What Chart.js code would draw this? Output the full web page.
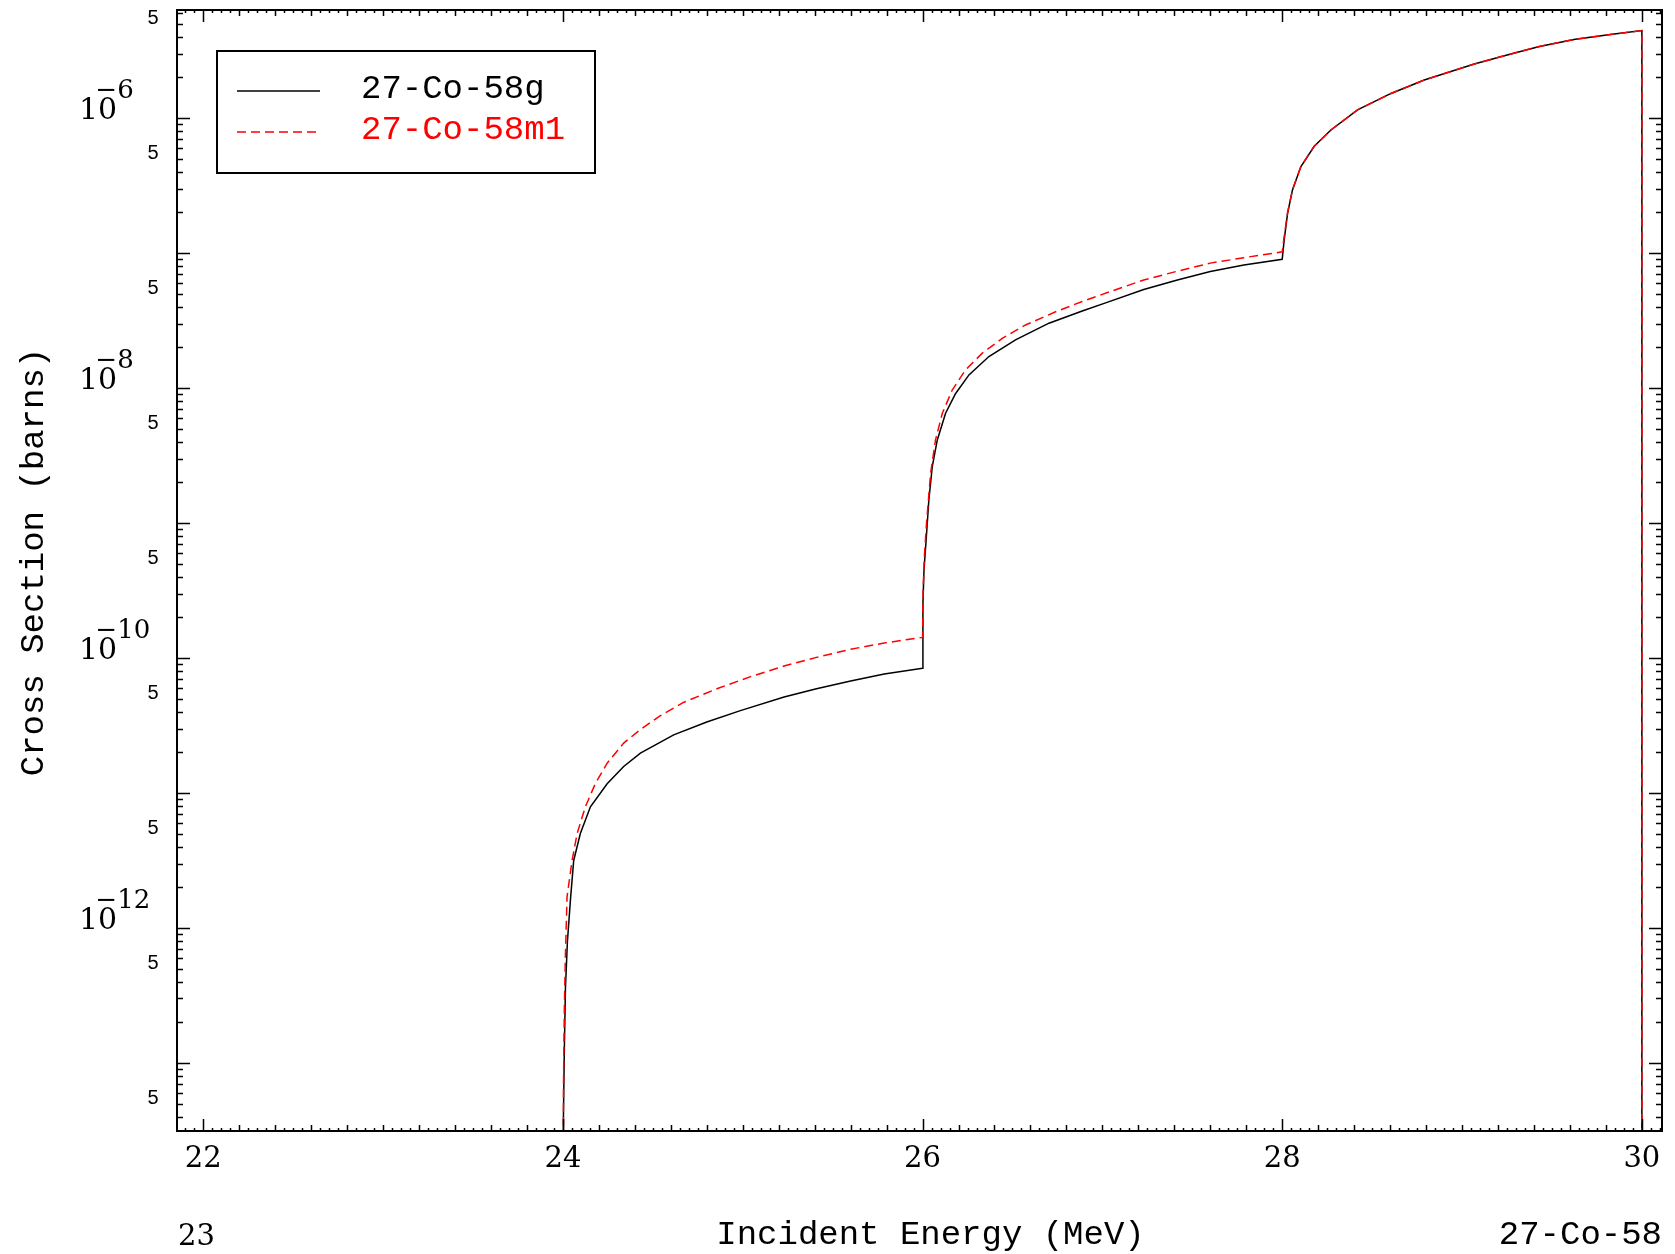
<!DOCTYPE html>
<html>
<head>
<meta charset="utf-8">
<script src="https://cdn.jsdelivr.net/npm/chart.js@4.4.1/dist/chart.umd.min.js"></script>
<style>
  html, body { margin: 0; padding: 0; background: #fff; }
  #wrap { width: 1675px; height: 1254px; position: relative; }
</style>
</head>
<body>
<div id="wrap"><canvas id="xsChart"></canvas></div>
<script>
// cross sections (barns); 1e-20 = below the axis (zero)
const groundLabel = '27-Co-58g';
const groundEnergy = [24.000, 24.003, 24.008, 24.014, 24.025, 24.042, 24.060, 24.097, 24.153, 24.246,
  24.338, 24.431, 24.616, 24.800, 24.987, 25.230, 25.410, 25.600, 25.787, 26.000,
  26.002, 26.008, 26.020, 26.035, 26.054, 26.082, 26.128, 26.184, 26.258, 26.369, 26.517, 26.703,
  26.888, 27.018, 27.230, 27.417, 27.600, 27.787, 28.000,
  28.011, 28.030, 28.057, 28.104, 28.178, 28.271, 28.419, 28.605, 28.790, 29.068, 29.230, 29.430,
  29.630, 29.835, 30.000, 30.0001];
const groundXS = [1e-20, 4.0e-14, 1.26e-13, 3.55e-13, 7.9e-13, 1.62e-12, 3.16e-12, 5.0e-12, 7.9e-12, 1.17e-11,
  1.57e-11, 1.97e-11, 2.69e-11, 3.35e-11, 4.07e-11, 5.13e-11, 5.92e-11, 6.76e-11, 7.59e-11, 8.38e-11,
  2.5e-10, 4.5e-10, 7.5e-10, 1.48e-9, 2.61e-9, 4.12e-9, 6.5e-9, 9.1e-9, 1.25e-8, 1.71e-8, 2.27e-8, 3.02e-8,
  3.72e-8, 4.27e-8, 5.37e-8, 6.31e-8, 7.29e-8, 8.15e-8, 8.97e-8,
  1.25e-7, 1.97e-7, 2.93e-7, 4.37e-7, 6.17e-7, 8.15e-7, 1.15e-6, 1.52e-6, 1.91e-6, 2.51e-6, 2.88e-6, 3.39e-6,
  3.83e-6, 4.17e-6, 4.44e-6, 1e-20];

const metaLabel = '27-Co-58m1';
const metaEnergy = [24.000, 24.003, 24.008, 24.014, 24.023, 24.051, 24.079, 24.125, 24.180, 24.246,
  24.338, 24.431, 24.540, 24.670, 24.860, 25.040, 25.230, 25.410, 25.600, 25.787, 26.000,
  26.003, 26.010, 26.022, 26.045, 26.072, 26.110, 26.165, 26.239, 26.332, 26.443, 26.573, 26.740,
  26.888, 27.046, 27.230, 27.417, 27.600, 27.787, 28.000,
  28.011, 28.030, 28.057, 28.104, 28.178, 28.271, 28.419, 28.605, 28.790, 29.068, 29.230, 29.430,
  29.630, 29.835, 30.000, 30.0001];
const metaXS = [1e-20, 6.3e-14, 2.5e-13, 6.3e-13, 1.70e-12, 3.16e-12, 5.0e-12, 7.9e-12, 1.17e-11, 1.66e-11,
  2.34e-11, 2.95e-11, 3.72e-11, 4.68e-11, 5.94e-11, 7.24e-11, 8.71e-11, 1.01e-10, 1.16e-10, 1.29e-10, 1.42e-10,
  3.16e-10, 5.6e-10, 1.0e-9, 2.34e-9, 4.12e-9, 6.5e-9, 9.66e-9, 1.36e-8, 1.81e-8, 2.33e-8, 2.93e-8, 3.67e-8,
  4.37e-8, 5.19e-8, 6.31e-8, 7.33e-8, 8.41e-8, 9.23e-8, 1.02e-7,
  1.32e-7, 2.0e-7, 2.93e-7, 4.37e-7, 6.17e-7, 8.15e-7, 1.15e-6, 1.52e-6, 1.91e-6, 2.51e-6, 2.88e-6, 3.39e-6,
  3.83e-6, 4.17e-6, 4.44e-6, 1e-20];

// axis labels
const xTickLabels = [22, 24, 26, 28, 30];
const yPowerLabels = [-6, -8, -10, -12];
const yFiveDecades = [-6, -7, -8, -9, -10, -11, -12, -13, -14];
const xTitle = 'Incident Energy (MeV)';
const yTitle = 'Cross Section (barns)';
const cornerLeft = '23';
const cornerRight = '27-Co-58';

function toPoints(es, vs) {
    return es.map((e, i) => ({ x: e, y: vs[i] }));
}

// frame, inward ticks, labels and legend (ENDF style)
const framePlugin = {
    id: 'framePlugin',
    afterDraw(chart) {
        const ctx = chart.ctx;
        const a = chart.chartArea;
        const xs = chart.scales.x;
        const ys = chart.scales.y;
        ctx.save();
        ctx.strokeStyle = '#000';
        ctx.fillStyle = '#000';

        // frame
        ctx.lineWidth = 2;
        ctx.strokeRect(a.left, a.top, a.right - a.left, a.bottom - a.top);

        // x ticks every 0.05, medium every 0.2, major every 2
        ctx.lineWidth = 1.5;
        ctx.beginPath();
        const i0 = Math.ceil(xs.min / 0.05), i1 = Math.floor(xs.max / 0.05);
        for (let i = i0; i <= i1; i++) {
            const px = Math.round(xs.getPixelForValue(i * 0.05)) + 0.5;
            const len = (i % 40 === 0) ? 12 : (i % 4 === 0 ? 6 : 3);
            ctx.moveTo(px, a.bottom); ctx.lineTo(px, a.bottom - len);
            ctx.moveTo(px, a.top); ctx.lineTo(px, a.top + len);
        }
        // y ticks: decades and 2..9
        for (let d = -15; d <= -4; d++) {
            for (let k = 1; k <= 9; k++) {
                const v = k * Math.pow(10, d);
                if (v < ys.min || v > ys.max) continue;
                const py = Math.round(ys.getPixelForValue(v)) + 0.5;
                const len = k === 1 ? 13 : 6;
                ctx.moveTo(a.left, py); ctx.lineTo(a.left + len, py);
                ctx.moveTo(a.right, py); ctx.lineTo(a.right - len, py);
            }
        }
        ctx.stroke();

        // x tick labels
        ctx.font = '29px "DejaVu Serif"';
        ctx.textAlign = 'center';
        ctx.textBaseline = 'alphabetic';
        xTickLabels.forEach(t => {
            ctx.fillText(String(t), xs.getPixelForValue(t), a.bottom + 36);
        });
        ctx.textAlign = 'left';
        ctx.fillText(cornerLeft, a.left + 1, a.bottom + 114);

        // y labels: 10^n at even decades
        yPowerLabels.forEach(p => {
            const py = ys.getPixelForValue(Math.pow(10, p));
            ctx.font = '30px "DejaVu Serif"';
            ctx.textAlign = 'left';
            ctx.fillText('10', 79, py + 1);
            const w = ctx.measureText('10').width;
            ctx.font = '26px "DejaVu Serif"';
            ctx.fillText('\u2212', 79 + w - 22, py - 20);
            ctx.fillText(String(-p), 79 + w, py - 20);
        });
        // "5" at each 5 x 10^n
        ctx.font = '20px "Liberation Sans"';
        ctx.textAlign = 'center';
        ctx.textBaseline = 'middle';
        yFiveDecades.forEach(d => {
            const v = 5 * Math.pow(10, d);
            if (v < ys.min || v > ys.max) return;
            ctx.fillText('5', 153, ys.getPixelForValue(v) - 5);
        });

        // axis titles
        ctx.font = '34px "Liberation Mono"';
        ctx.textBaseline = 'alphabetic';
        ctx.textAlign = 'center';
        ctx.fillText(xTitle, (a.left + a.right) / 2 + 11, a.bottom + 113);
        ctx.textAlign = 'right';
        ctx.fillText(cornerRight, a.right, a.bottom + 113);
        ctx.save();
        ctx.translate(43, 562);
        ctx.rotate(-Math.PI / 2);
        ctx.textAlign = 'center';
        ctx.fillText(yTitle, 0, 0);
        ctx.restore();

        // legend box
        const bx = a.left + 40, by = a.top + 41, bw = 378, bh = 122;
        ctx.lineWidth = 2;
        ctx.strokeRect(bx, by, bw, bh);
        chart.data.datasets.forEach((d, i) => {
            const ly = by + 40 + i * 41;
            ctx.save();
            ctx.strokeStyle = d.borderColor;
            ctx.lineWidth = 1.5;
            ctx.setLineDash(d.borderDash || []);
            ctx.beginPath();
            ctx.moveTo(bx + 20, ly);
            ctx.lineTo(bx + 103, ly);
            ctx.stroke();
            ctx.restore();
            ctx.fillStyle = d.borderColor;
            ctx.font = '34px "Liberation Mono"';
            ctx.textAlign = 'left';
            ctx.fillText(d.label, bx + 144, ly + 7);
        });
        ctx.restore();
    }
};

const ctx = document.getElementById('xsChart').getContext('2d');
new Chart(ctx, {
    type: 'line',
    data: {
        datasets: [{
            label: groundLabel,
            data: toPoints(groundEnergy, groundXS),
            borderColor: '#000000',
            borderWidth: 1.5,
            pointRadius: 0,
            tension: 0,
            order: 1
        }, {
            label: metaLabel,
            data: toPoints(metaEnergy, metaXS),
            borderColor: '#ff0000',
            borderWidth: 1.5,
            borderDash: [9, 5],
            pointRadius: 0,
            tension: 0,
            order: 0
        }]
    },
    options: {
        responsive: true,
        maintainAspectRatio: false,
        animation: false,
        layout: { padding: { left: 177, right: 13, top: 10, bottom: 123 } },
        plugins: {
            legend: { display: false },
            tooltip: { enabled: false }
        },
        scales: {
            x: { type: 'linear', display: false, min: 21.854, max: 30.112 },
            y: { type: 'logarithmic', display: false, min: 3.13e-14, max: 6.31e-6 }
        }
    },
    plugins: [framePlugin]
});
</script>
</body>
</html>
